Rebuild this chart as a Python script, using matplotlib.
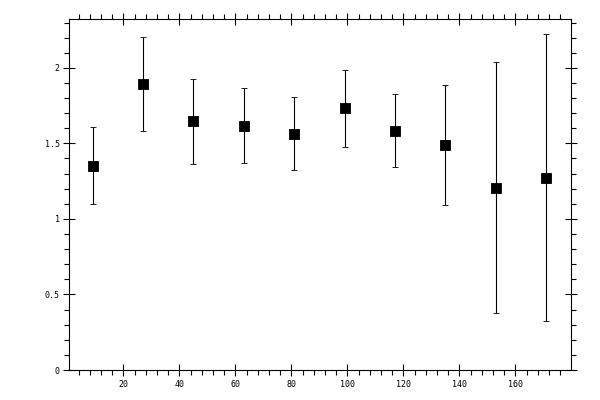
import numpy as np
import matplotlib
matplotlib.use('Agg')
from matplotlib import pyplot as plt
from matplotlib.ticker import MultipleLocator, FuncFormatter

# bin centres and measured values
x = [9, 27, 45, 63, 81, 99, 117, 135, 153, 171]
y = [1.353, 1.893, 1.645, 1.618, 1.565, 1.731, 1.585, 1.492, 1.207, 1.273]
yerr = [0.256, 0.311, 0.282, 0.249, 0.243, 0.257, 0.241, 0.397, 0.829, 0.951]

fig = plt.figure(figsize=(6, 4), dpi=100)
ax = fig.add_axes([0.1155, 0.075, 0.8355, 0.877])

ax.errorbar(x, y, yerr=yerr, fmt='s', color='black', ecolor='black',
            markersize=6.5, markeredgewidth=0.6, elinewidth=0.8,
            capsize=2, capthick=0.8)

ax.set_xlim(0.7, 179.7)
ax.set_ylim(0, 2.322)

ax.xaxis.set_major_locator(MultipleLocator(20))
ax.xaxis.set_minor_locator(MultipleLocator(4))
ax.yaxis.set_major_locator(MultipleLocator(0.5))
ax.yaxis.set_minor_locator(MultipleLocator(0.1))
ax.yaxis.set_major_formatter(FuncFormatter(lambda v, p: '%g' % v))

ax.tick_params(which='both', top=True, right=True, width=0.8)
ax.tick_params(which='major', direction='inout', length=8, pad=3,
               labelsize=6)
ax.tick_params(which='minor', direction='out', length=3.5)
for lab in ax.get_xticklabels() + ax.get_yticklabels():
    lab.set_family('DejaVu Sans Mono')

for s in ax.spines.values():
    s.set_linewidth(0.8)

fig.savefig('out.png', dpi=100)
